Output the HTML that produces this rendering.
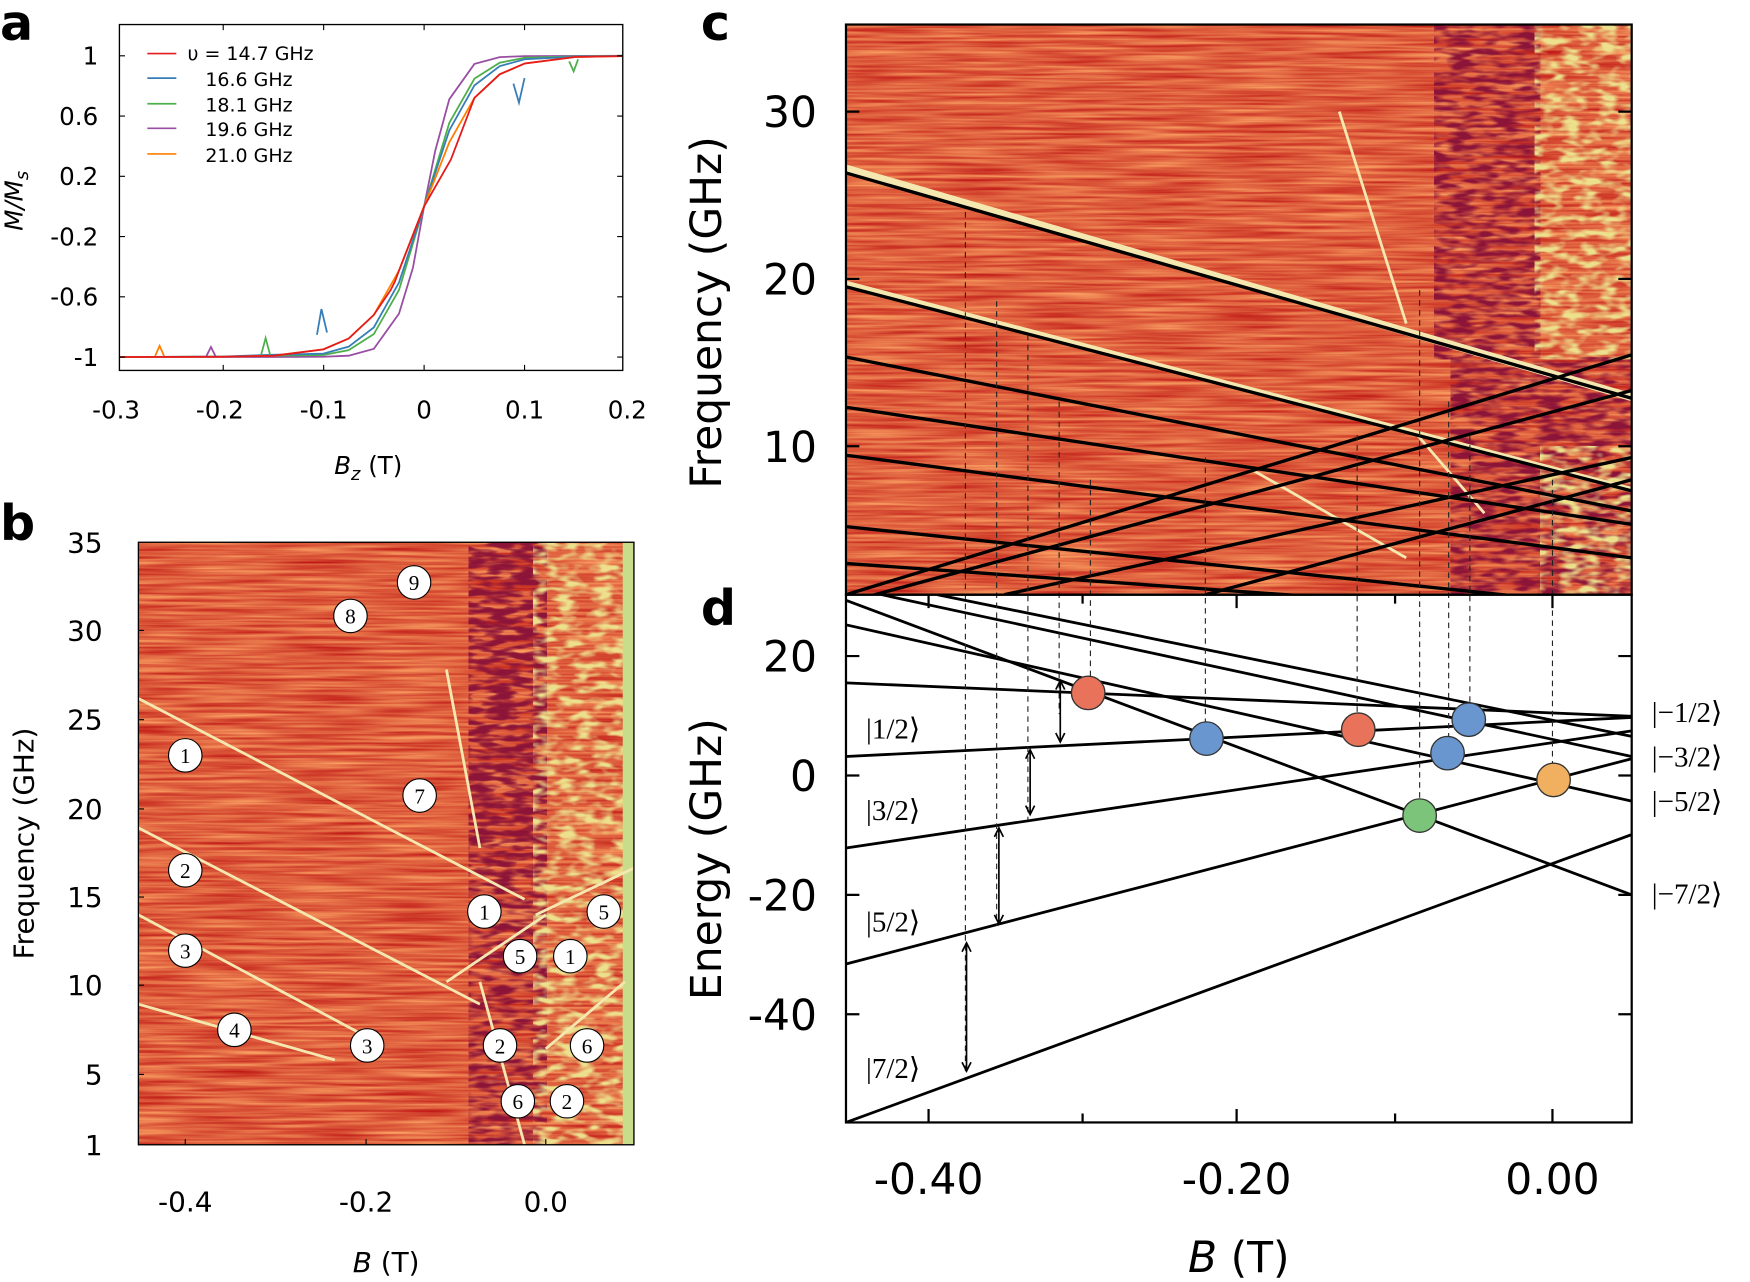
<!DOCTYPE html>
<html><head><meta charset="utf-8"><style>
html,body{margin:0;padding:0;background:#fff;}
svg{display:block;font-family:"DejaVu Sans","Liberation Sans",sans-serif;}
</style></head><body>
<svg width="1750" height="1282" viewBox="0 0 1568 1149" preserveAspectRatio="none" xmlns="http://www.w3.org/2000/svg">
<defs>
<clipPath id="cb"><rect x="124" y="486" width="444" height="540"/></clipPath>
<clipPath id="cc"><rect x="758" y="22" width="704" height="511"/></clipPath>
<clipPath id="cd"><rect x="758" y="533" width="704" height="473"/></clipPath>
<clipPath id="ca"><rect x="107" y="22" width="451" height="310"/></clipPath>
<filter id="fn" x="0" y="0" width="100%" height="100%" color-interpolation-filters="sRGB">
<feTurbulence type="fractalNoise" baseFrequency="0.012 0.35" numOctaves="2" seed="3"/>
<feColorMatrix type="matrix" values="0.3 0 0 0 0.72  0.7 0 0 0 0.02  0.4 0 0 0 0.04  0 0 0 0 1"/>
</filter>
<filter id="fd" x="0" y="0" width="100%" height="100%" color-interpolation-filters="sRGB">
<feTurbulence type="fractalNoise" baseFrequency="0.05 0.2" numOctaves="2" seed="8"/>
<feColorMatrix type="matrix" values="0 0 0 0 0.55  0 0 0 0 0.08  0 0 0 0 0.22  3.5 0 0 0 -1.35"/>
</filter>
<filter id="fy" x="0" y="0" width="100%" height="100%" color-interpolation-filters="sRGB">
<feTurbulence type="fractalNoise" baseFrequency="0.06 0.15" numOctaves="2" seed="5"/>
<feColorMatrix type="matrix" values="0 0 0 0 0.93  0 0 0 0 0.88  0 0 0 0 0.55  3.5 0 0 0 -1.5"/>
</filter>
</defs>

<!-- panel b heatmap -->
<g clip-path="url(#cb)">
<rect x="124" y="486" width="444" height="540" fill="#e0603b"/>
<rect x="124" y="486" width="444" height="540" filter="url(#fn)"/>
<rect x="420" y="486" width="70" height="540" filter="url(#fd)"/>
<rect x="420" y="486" width="70" height="300" filter="url(#fd)"/>
<rect x="478" y="486" width="82" height="540" filter="url(#fy)"/>
<rect x="558" y="486" width="10" height="540" fill="#c8dc8c"/>
<g stroke="#f4e8b0" stroke-width="2.5">
<line x1="124" y1="626" x2="470" y2="806"/><line x1="124" y1="742" x2="430" y2="900"/>
<line x1="124" y1="820" x2="330" y2="930"/><line x1="124" y1="900" x2="300" y2="950"/>
<line x1="400" y1="880" x2="489" y2="820"/><line x1="480" y1="820" x2="568" y2="778"/>
<line x1="400" y1="600" x2="430" y2="760"/><line x1="430" y1="880" x2="470" y2="1026"/>
<line x1="489" y1="940" x2="560" y2="880"/>
</g>
<g fill="#fff" stroke="#000" stroke-width="1">
<circle cx="166" cy="677" r="15"/><circle cx="166" cy="780" r="15"/><circle cx="166" cy="852" r="15"/><circle cx="210" cy="923" r="15"/>
<circle cx="329" cy="937" r="15"/><circle cx="448" cy="937" r="15"/><circle cx="464" cy="987" r="15"/><circle cx="508" cy="987" r="15"/>
<circle cx="526" cy="937" r="15"/><circle cx="466" cy="857" r="15"/><circle cx="511" cy="857" r="15"/><circle cx="434" cy="817" r="15"/>
<circle cx="541" cy="817" r="15"/><circle cx="376" cy="713" r="15"/><circle cx="314" cy="552" r="15"/><circle cx="371" cy="522" r="15"/>
</g>
<g font-size="19" font-family="Liberation Serif,serif" text-anchor="middle">
<text x="166" y="684">1</text><text x="166" y="787">2</text><text x="166" y="859">3</text><text x="210" y="930">4</text>
<text x="329" y="944">3</text><text x="448" y="944">2</text><text x="464" y="994">6</text><text x="508" y="994">2</text>
<text x="526" y="944">6</text><text x="466" y="864">5</text><text x="511" y="864">1</text><text x="434" y="824">1</text>
<text x="541" y="824">5</text><text x="376" y="720">7</text><text x="314" y="559">8</text><text x="371" y="529">9</text>
</g>
</g>

<!-- panel c heatmap -->
<g clip-path="url(#cc)">
<rect x="758" y="22" width="704" height="511" fill="#e0603b"/>
<rect x="758" y="22" width="704" height="511" filter="url(#fn)"/>
<rect x="1285" y="22" width="95" height="300" filter="url(#fd)"/>
<rect x="1300" y="320" width="162" height="213" filter="url(#fd)"/>
<rect x="1375" y="22" width="87" height="300" filter="url(#fy)"/>
<rect x="1380" y="400" width="82" height="133" filter="url(#fy)"/>
<g stroke="#f4e8b0" stroke-width="2.5">
<line x1="1200" y1="100" x2="1260" y2="290"/><line x1="1120" y1="420" x2="1260" y2="500"/>
<line x1="1270" y1="390" x2="1330" y2="460"/>
</g>
<line x1="758" y1="151" x2="1462" y2="356" stroke="#f4e8b0" stroke-width="7"/>
<line x1="758" y1="254" x2="1462" y2="439" stroke="#f4e8b0" stroke-width="5"/>
<g stroke="#000" stroke-width="3">
<line x1="758" y1="155" x2="1462" y2="357"/><line x1="758" y1="257" x2="1462" y2="440"/>
<line x1="758" y1="320" x2="1462" y2="458"/><line x1="758" y1="365" x2="1462" y2="470"/>
<line x1="758" y1="408" x2="1462" y2="500"/><line x1="758" y1="472" x2="1462" y2="545"/>
<line x1="758" y1="505" x2="1462" y2="555"/>
<line x1="758" y1="533" x2="1462" y2="318"/><line x1="900" y1="533" x2="1462" y2="410"/>
<line x1="1080" y1="533" x2="1462" y2="430"/><line x1="758" y1="540" x2="1462" y2="350"/>
</g>
</g>

<!-- panel d -->
<g clip-path="url(#cd)" stroke="#000" stroke-width="2.5">
<line x1="758" y1="1006" x2="1462" y2="748"/><line x1="758" y1="864" x2="1462" y2="680"/>
<line x1="758" y1="760" x2="1462" y2="655"/><line x1="758" y1="678" x2="1462" y2="643"/>
<line x1="758" y1="612" x2="1462" y2="642"/><line x1="758" y1="538" x2="1462" y2="802"/>
<line x1="758" y1="560" x2="1462" y2="718"/><line x1="790" y1="533" x2="1462" y2="678"/>
<line x1="840" y1="533" x2="1462" y2="660"/>
</g>
<g stroke="#222" stroke-width="1" stroke-dasharray="5,4">
<line x1="865" y1="190" x2="865" y2="960"/><line x1="893" y1="270" x2="893" y2="830"/>
<line x1="921" y1="300" x2="921" y2="735"/><line x1="949" y1="360" x2="949" y2="640"/>
<line x1="977" y1="430" x2="977" y2="620"/><line x1="1080" y1="410" x2="1080" y2="660"/>
<line x1="1216" y1="390" x2="1216" y2="650"/><line x1="1272" y1="260" x2="1272" y2="730"/>
<line x1="1298" y1="360" x2="1298" y2="675"/><line x1="1317" y1="390" x2="1317" y2="645"/>
<line x1="1391" y1="430" x2="1391" y2="695"/>
</g>
<g stroke="#000" stroke-width="1.5" fill="none">
<path d="M866,845V960M862,853L866,845L870,853M862,952L866,960L870,952"/>
<path d="M895,742V828M891,750L895,742L899,750M891,820L895,828L899,820"/>
<path d="M923,672V730M919,680L923,672L927,680M919,722L923,730L927,722"/>
<path d="M950,610V665M946,618L950,610L954,618M946,657L950,665L954,657"/>
</g>
<g stroke="#333" stroke-width="1.2">
<circle cx="975" cy="621" r="15" fill="#e8735a"/><circle cx="1081" cy="662" r="15" fill="#6a96d0"/>
<circle cx="1217" cy="654" r="15" fill="#e8735a"/><circle cx="1316" cy="645" r="15" fill="#6a96d0"/>
<circle cx="1297" cy="675" r="15" fill="#6a96d0"/><circle cx="1272" cy="731" r="15" fill="#7cc47a"/>
<circle cx="1392" cy="699" r="15" fill="#f0b060"/>
</g>
<g stroke="#000" stroke-width="2">
<path d="M832,1006v-12M1108,1006v-12M1391,1006v-12M970,1006v-8M1250,1006v-8M832,533v12M1108,533v12M1391,533v12M970,533v8M1250,533v8"/>
<path d="M758,588h12M758,695h12M758,802h12M758,909h12M1462,588h-12M1462,695h-12M1462,802h-12M1462,909h-12"/>
<path d="M758,100h12M758,250h12M758,400h12M1462,100h-12M1462,250h-12M1462,400h-12"/>
</g>

<!-- panel a curves -->
<g clip-path="url(#ca)" fill="none" stroke-width="1.6">
<polyline stroke="#984ea3" points="107,320 244.7,320 289.8,319.7 312.4,318.8 334.9,312.7 357.5,281.1 370,240 380,185 390,135 402.6,88.9 425.1,57.3 447.7,51.2 470.2,50.3 560,50"/>
<polyline stroke="#4daf4a" points="107,320 199.6,319.6 244.7,318.8 289.8,318.2 312.4,313.8 334.9,299.5 357.5,259.9 380,185 402.6,110.1 425.1,70.5 447.7,56.2 470.2,51.8 515,50.5 560,50"/>
<polyline stroke="#377eb8" points="107,320 199.6,319.5 244.7,318 289.8,316.9 312.4,310.7 334.9,293.5 357.5,253.2 380,185 402.6,116.8 425.1,76.5 447.7,59.3 470.2,53.1 515,50.8 560,50"/>
<polyline stroke="#ff7f00" points="107,320 199.6,319.7 244.7,318.9 289.8,313.1 312.4,303.4 334.9,282.3 357.5,242.5 380,185 402.6,127.5 425.1,87.7 447.7,66.6 470.2,56.9 515.3,51.1 560,50.3"/>
<polyline stroke="#e41a1c" points="107,320 199.6,319.7 244.7,318.9 289.8,313.1 312.4,303.4 334.9,282.3 350,260 354,252 357.5,242.5 380,185 400,150 404,143 425.1,87.7 447.7,66.6 470.2,56.9 515.3,51.1 560,50.3"/>
<path stroke="#ff7f00" d="M139,319L143,310L147,319"/><path stroke="#984ea3" d="M185,319L189,311L193,319"/>
<path stroke="#4daf4a" d="M234,318L238,303L242,318"/><path stroke="#377eb8" d="M284,300L288,277L293,298"/>
<path stroke="#377eb8" d="M460,75L465,92L470,70"/><path stroke="#4daf4a" d="M510,55L514,64L518,53"/>
</g>
<g stroke="#000" stroke-width="1">
<path d="M107,50h5M107,104h5M107,158h5M107,212h5M107,266h5M107,320h5M558,50h-5M558,104h-5M558,158h-5M558,212h-5M558,266h-5M558,320h-5"/>
<path d="M200,332v-5M290,332v-5M380,332v-5M470,332v-5M200,22v5M290,22v5M380,22v5M470,22v5"/>
<path d="M124,565h5M124,645h5M124,725h5M124,804h5M124,883h5M124,963h5M166,1026v-5M328,1026v-5M489,1026v-5"/>
</g>

<!-- frames -->
<rect x="107" y="22" width="451" height="310" fill="none" stroke="#000" stroke-width="1.2"/>
<rect x="124" y="486" width="444" height="540" fill="none" stroke="#000" stroke-width="1.2"/>
<rect x="758" y="22" width="704" height="511" fill="none" stroke="#000" stroke-width="2"/>
<rect x="758" y="533" width="704" height="473" fill="none" stroke="#000" stroke-width="2"/>
<g font-weight="bold" font-size="44" fill="#000">
<text x="0" y="36">a</text><text x="0" y="484">b</text><text x="628" y="36">c</text><text x="628" y="560">d</text>
</g>
<g font-size="22" text-anchor="end">
<text x="88" y="58">1</text><text x="88" y="112">0.6</text><text x="88" y="166">0.2</text><text x="88" y="220">-0.2</text><text x="88" y="274">-0.6</text><text x="88" y="328">-1</text>
</g>
<g font-size="22" text-anchor="middle">
<text x="104" y="375">-0.3</text><text x="197" y="375">-0.2</text><text x="290" y="375">-0.1</text><text x="380" y="375">0</text><text x="470" y="375">0.1</text><text x="562" y="375">0.2</text>
<text x="330" y="425"><tspan font-style="italic">B<tspan font-size="16" dy="5">z</tspan></tspan><tspan dy="-5"> (T)</tspan></text>
</g>
<text transform="translate(20,180) rotate(-90)" font-size="22" text-anchor="middle" font-style="italic">M/M<tspan font-size="16" dy="5">s</tspan></text>
<g font-size="17">
<line x1="132" y1="48" x2="158" y2="48" stroke="#e41a1c" stroke-width="1.5"/><text x="168" y="54">υ = 14.7 GHz</text>
<line x1="132" y1="70" x2="158" y2="70" stroke="#377eb8" stroke-width="1.5"/><text x="184" y="77">16.6 GHz</text>
<line x1="132" y1="93" x2="158" y2="93" stroke="#4daf4a" stroke-width="1.5"/><text x="184" y="100">18.1 GHz</text>
<line x1="132" y1="115" x2="158" y2="115" stroke="#984ea3" stroke-width="1.5"/><text x="184" y="122">19.6 GHz</text>
<line x1="132" y1="138" x2="158" y2="138" stroke="#ff7f00" stroke-width="1.5"/><text x="184" y="145">21.0 GHz</text>
</g>
<g font-size="25" text-anchor="end">
<text x="92" y="495">35</text><text x="92" y="574">30</text><text x="92" y="654">25</text><text x="92" y="734">20</text><text x="92" y="813">15</text><text x="92" y="892">10</text><text x="92" y="972">5</text><text x="92" y="1035">1</text>
</g>
<g font-size="25" text-anchor="middle">
<text x="166" y="1086">-0.4</text><text x="328" y="1086">-0.2</text><text x="489" y="1086">0.0</text>
<text x="346" y="1140"><tspan font-style="italic">B</tspan> (T)</text>
</g>
<text transform="translate(30,756) rotate(-90)" font-size="25" text-anchor="middle">Frequency (GHz)</text>
<g font-size="38" text-anchor="end">
<text x="732" y="114">30</text><text x="732" y="264">20</text><text x="732" y="414">10</text>
<text x="732" y="602">20</text><text x="732" y="709">0</text><text x="732" y="816">-20</text><text x="732" y="923">-40</text>
</g>
<g font-size="38" text-anchor="middle">
<text x="832" y="1070">-0.40</text><text x="1108" y="1070">-0.20</text><text x="1391" y="1070">0.00</text>
<text x="1110" y="1140"><tspan font-style="italic">B</tspan> (T)</text>
</g>
<text transform="translate(646,280) rotate(-90)" font-size="38" text-anchor="middle">Frequency (GHz)</text>
<text transform="translate(646,770) rotate(-90)" font-size="38" text-anchor="middle">Energy (GHz)</text>
<g font-size="26" font-family="Liberation Serif,serif">
<text x="776" y="662">|1/2⟩</text><text x="776" y="735">|3/2⟩</text><text x="776" y="835">|5/2⟩</text><text x="776" y="966">|7/2⟩</text>
<text x="1480" y="647">|−1/2⟩</text><text x="1480" y="687">|−3/2⟩</text><text x="1480" y="727">|−5/2⟩</text><text x="1480" y="810">|−7/2⟩</text>
</g>
</svg>
</body></html>
